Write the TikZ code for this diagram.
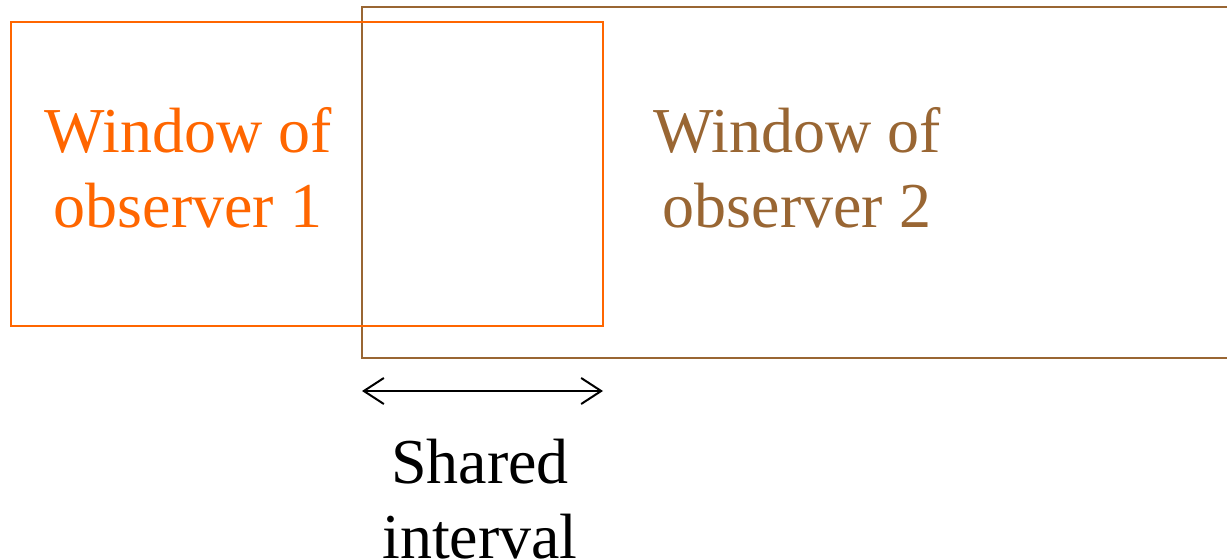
\documentclass[tikz,border=0pt]{standalone}
\usepackage{fontspec}
\setmainfont{Liberation Serif}
\usetikzlibrary{arrows.meta}
\definecolor{obsone}{HTML}{FF6600}
\definecolor{obstwo}{HTML}{996633}
\begin{document}
\begin{tikzpicture}[x=1pt,y=-1pt,
  label/.style={align=center,font=\fontsize{64}{75}\selectfont,inner sep=0pt},
  frame/.style={line width=2pt}]
\useasboundingbox (0,0) rectangle (1227,559);
% window of observer 2 (open on the right)
\draw[frame,obstwo] (1240,7) -- (362,7) -- (362,358) -- (1240,358);
% window of observer 1
\draw[frame,obsone] (10.5,22.5) rectangle (602.5,326);
\node[label,text=obsone] (w1) at (188,168) {Window of\\observer 1};
\node[label,text=obstwo] (w2) at (797,168) {Window of\\observer 2};
% shared interval marker
\coordinate (sa) at (362,391);
\coordinate (sb) at (603,391);
\draw[line width=2pt,{Straight Barb[length=20pt,width=26pt,line width=2pt]}-{Straight Barb[length=20pt,width=26pt,line width=2pt]}] (sa) -- (sb);
\node[label,text=black] (si) at (480,499) {Shared\\interval};
\end{tikzpicture}
\end{document}
